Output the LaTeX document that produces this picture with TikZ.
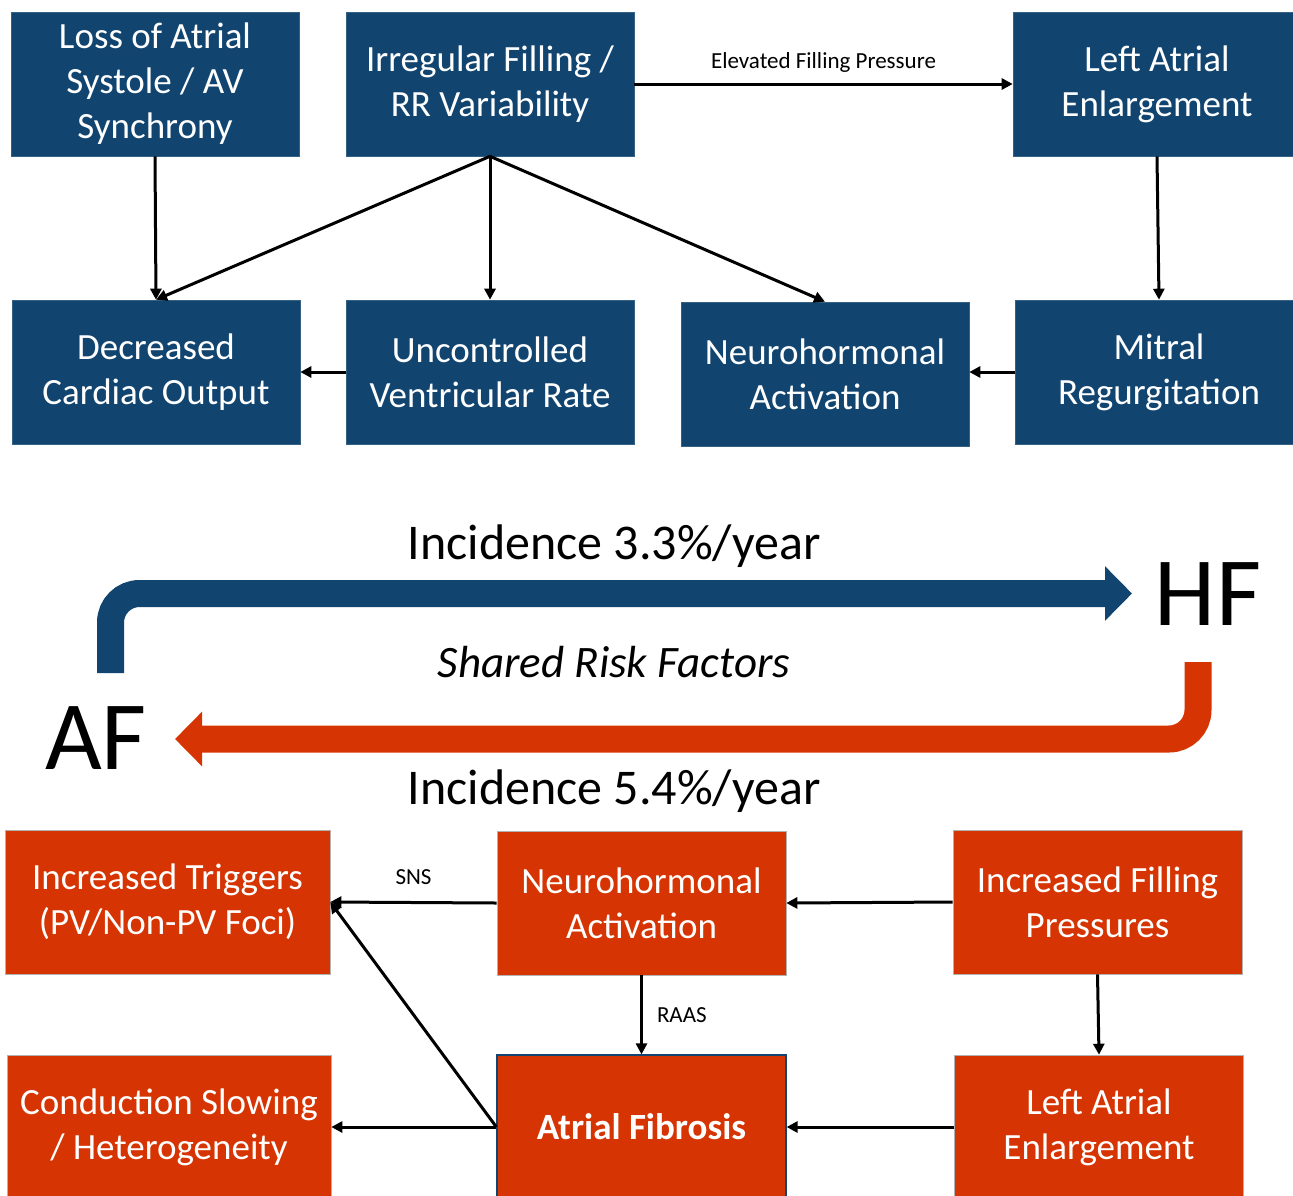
\documentclass[tikz,border=0pt]{standalone}
\usepackage{fontspec}
\setmainfont{Carlito}
\usetikzlibrary{arrows.meta}
\definecolor{hfblue}{RGB}{17,69,112}
\definecolor{afred}{RGB}{214,52,2}
\tikzset{
  box/.style={rectangle,minimum width=288pt,minimum height=144pt,inner sep=0pt,align=center,text=white,font=\fontsize{37}{45}\selectfont},
  bluebox/.style={box,fill=hfblue,draw=hfblue!85!white,line width=0.6pt},
  redbox/.style={box,fill=afred,draw=gray!60,line width=0.6pt},
  conn/.style={line width=3pt,-{Triangle[length=11pt,width=11pt]}},
  lbl/.style={font=\fontsize{23}{28}\selectfont,inner sep=0pt},
  band/.style={line width=27pt,rounded corners=29pt,-{Triangle[length=27pt,width=53pt]}},
  inc/.style={font=\fontsize{50}{60}\selectfont,inner sep=0pt},
  abbr/.style={font=\fontsize{98}{118}\selectfont,inner sep=0pt}
}

\begin{document}
\begin{tikzpicture}[x=1pt,y=-1pt]
\useasboundingbox (0,0) rectangle (1293,1195);
\clip (0,0) rectangle (1293,1195);
% AF -> HF mechanisms
\node[bluebox] (loss) at (155,84) {Loss of Atrial\\Systole / AV\\Synchrony};
\node[bluebox] (irr) at (490,84) {Irregular Filling /\\RR Variability};
\node[bluebox] (laeT) at (1157,84) {Left Atrial\\Enlargement};
\node[bluebox] (dco) at (156,372) {Decreased\\Cardiac Output};
\node[bluebox] (uvr) at (490,372) {Uncontrolled\\Ventricular Rate};
\node[bluebox] (naT) at (825,374) {Neurohormonal\\Activation};
\node[bluebox] (mr) at (1159,372) {Mitral\\Regurgitation};
\draw[conn] (loss.south) -- (dco.north);
\foreach \t in {dco,uvr,naT}{\draw[conn] (irr.south) -- (\t.north);}
\draw[conn] (irr.east) -- node[lbl,above=10pt] (efp) {Elevated Filling Pressure} (laeT.west);
\draw[conn] (laeT.south) -- (mr.north);
\draw[conn] (uvr.west) -- (dco.east);
\draw[conn] (mr.west) -- (mr.west -| naT.east);
% middle: the two big arrows
\node[inc] (inc1) at (614,546) {Incidence 3.3\%/year};
\node[abbr] (hf) at (1208,594) {HF};
\node[inc,font=\fontsize{45}{54}\selectfont\itshape] (srf) at (614,662) {Shared Risk Factors};
\node[abbr] (af) at (96,738) {AF};
\node[inc] (inc2) at (614,791) {Incidence 5.4\%/year};
\coordinate (bS) at (110.5,673);
\coordinate (bE) at (1132,593.5);
\coordinate (rS) at (1198,662);
\coordinate (rE) at (175,739);
\draw[band,hfblue] (bS) |- (bE);
\draw[band,afred] (rS) |- (rE);
% HF -> AF mechanisms
\node[redbox,minimum width=325pt] (trig) at (167.5,902) {Increased Triggers\\(PV/Non-PV Foci)};
\node[redbox,minimum width=289pt] (naB) at (641.5,903) {Neurohormonal\\Activation};
\node[redbox,minimum width=289pt] (ifp) at (1097.5,902) {Increased Filling\\Pressures};
\node[redbox,minimum width=324pt] (cond) at (169,1127) {Conduction Slowing\\/ Heterogeneity};
\node[redbox,minimum width=289pt,draw=hfblue,line width=1.2pt,font=\fontsize{37}{45}\selectfont\bfseries] (fib) at (641.5,1127) {Atrial Fibrosis};
\node[redbox,minimum width=289pt] (laeB) at (1099,1127) {Left Atrial\\Enlargement};
\draw[conn] (naB.west) -- node[lbl,above=16pt] (sns) {SNS} (trig.east);
\draw[conn] (ifp.west) -- (naB.east);
\draw[conn] (naB.south) -- node[lbl,right=14pt] (raas) {RAAS} (fib.north);
\draw[conn] (ifp.south) -- (laeB.north);
\draw[conn] (laeB.west) -- (fib.east);
\draw[conn] (fib.west) -- (cond.east);
\draw[conn] (fib.west) -- (trig.east);
\end{tikzpicture}
\end{document}
